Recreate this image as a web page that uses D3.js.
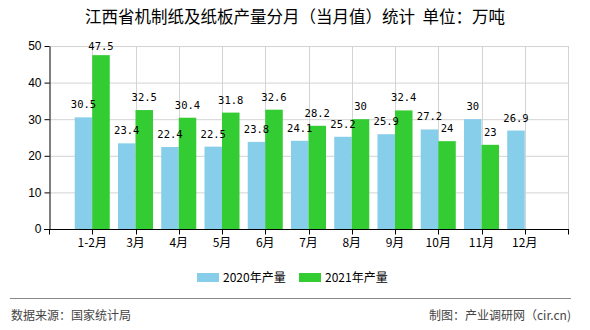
<!DOCTYPE html>
<html><head><meta charset="utf-8">
<script src="https://cdn.jsdelivr.net/npm/d3@7"></script>
<style>
html,body{margin:0;padding:0;background:#fff;}
svg{display:block;}
</style></head>
<body>
<script>
const title = "江西省机制纸及纸板产量分月（当月值）统计 单位：万吨";
const categories = ["1-2月","3月","4月","5月","6月","7月","8月","9月","10月","11月","12月"];
const seriesNames = ["2020年产量","2021年产量"];
const values2020 = [30.5,23.4,22.4,22.5,23.8,24.1,25.2,25.9,27.2,30,26.9];
const values2021 = [47.5,32.5,30.4,31.8,32.6,28.2,30,32.4,24,23,null];
const yTicks = [0,10,20,30,40,50];
const colors = ["#87CEEB","#33CC33"];
const sourceText = "数据来源：国家统计局";
const creditText = "制图：产业调研网（cir.cn)";

const W = 590, H = 330;
const mLeft = 49, mRight = 568, mTop = 46, mBottom = 229;

const svg = d3.select("body").append("svg").attr("width", W).attr("height", H);

const x = d3.scalePoint().domain(categories).range([mLeft, mRight]).padding(1);
const y = d3.scaleLinear().domain([0, 50]).range([mBottom, mTop]);
const step = x.step();
const bw = step * 0.405;
const inner = d3.scaleBand().domain(seriesNames).range([-bw, bw]).padding(0);

svg.append("text").attr("x", 295).attr("y", 23).attr("text-anchor","middle")
  .attr("font-family","'Noto Sans CJK SC', sans-serif").attr("font-size", 16.5)
  .attr("fill","#000").attr("xml:space","preserve").text(title.replace(" ", "  "));

// grid
const g = svg.append("g");
g.selectAll(".hg").data(yTicks.filter(d=>d>0)).enter().append("line")
  .attr("x1", mLeft).attr("x2", mRight).attr("y1", d=>y(d)+0.5).attr("y2", d=>y(d)+0.5)
  .attr("stroke","#d3d3d3").attr("stroke-width",1);
g.selectAll(".vg").data(categories.map(c=>x(c)).concat([mRight])).enter().append("line")
  .attr("x1", d=>Math.round(d)+0.5).attr("x2", d=>Math.round(d)+0.5).attr("y1", mTop).attr("y2", mBottom)
  .attr("stroke","#d3d3d3").attr("stroke-width",1);

// bars
const series = [values2020, values2021];
series.forEach((vals, si) => {
  svg.append("g").selectAll("rect").data(categories.map((c,i)=>({c, v: vals[i]})).filter(d=>d.v!=null))
    .enter().append("rect")
    .attr("x", d => x(d.c) + inner(seriesNames[si]))
    .attr("width", inner.bandwidth())
    .attr("y", d => y(d.v))
    .attr("height", d => y(0) - y(d.v))
    .attr("fill", colors[si]);
});
series.forEach((vals, si) => {
  svg.append("g").selectAll("text").data(categories.map((c,i)=>({c, v: vals[i]})).filter(d=>d.v!=null))
    .enter().append("text")
    .attr("x", d => x(d.c) + inner(seriesNames[si]) + inner.bandwidth()/2)
    .attr("y", d => Math.max(y(d.v) - 9, 50))
    .attr("text-anchor","middle")
    .attr("font-family","'DejaVu Sans Mono', monospace").attr("font-size", 10.5)
    .attr("fill","#000").text(d => d.v);
});

// axes
const yAxis = d3.axisLeft(y).tickValues(yTicks).tickSize(5).tickSizeOuter(0);
const ya = svg.append("g").attr("transform", `translate(${mLeft+0.5},0)`).call(yAxis);
ya.select(".domain").attr("stroke","#000");
ya.selectAll("text").attr("font-family","'Liberation Sans', Arial, sans-serif").attr("font-size", 12).attr("fill","#000");

const xa = svg.append("g").attr("transform", `translate(0,${mBottom+0.5})`);
xa.append("line").attr("x1", mLeft-5).attr("x2", mRight+1).attr("stroke","#000");
xa.selectAll(".tk").data(categories.map(c=>x(c)).concat([mLeft, mRight])).enter().append("line")
  .attr("x1", d=>Math.round(d)+0.5).attr("x2", d=>Math.round(d)+0.5).attr("y1",0).attr("y2",5).attr("stroke","#000");
xa.selectAll("text").data(categories).enter().append("text")
  .attr("x", d=>x(d)).attr("y", 17).attr("text-anchor","middle")
  .attr("font-family","'Noto Sans CJK SC', sans-serif").attr("font-size", 12).attr("fill","#000").text(d=>d);

// legend
const lg = svg.append("g");
const legendX = [197, 299];
seriesNames.forEach((s, i) => {
  lg.append("rect").attr("x", legendX[i]).attr("y", 273).attr("width", 22).attr("height", 9).attr("fill", colors[i]);
  lg.append("text").attr("x", legendX[i] + 26).attr("y", 282)
    .attr("font-family","'Noto Sans CJK SC', sans-serif").attr("font-size", 12).attr("fill","#000").text(s);
});

// footer
svg.append("line").attr("x1", 10).attr("x2", 571).attr("y1", 298.5).attr("y2", 298.5).attr("stroke","#888").attr("stroke-width",1);
svg.append("text").attr("x", 11).attr("y", 320).attr("font-family","'Noto Sans CJK SC', sans-serif")
  .attr("font-size", 12).attr("fill","#444").text(sourceText);
svg.append("text").attr("x", 571).attr("y", 320).attr("text-anchor","end").attr("font-family","'Noto Sans CJK SC', sans-serif")
  .attr("font-size", 12).attr("fill","#444").text(creditText);
</script>
</body></html>
